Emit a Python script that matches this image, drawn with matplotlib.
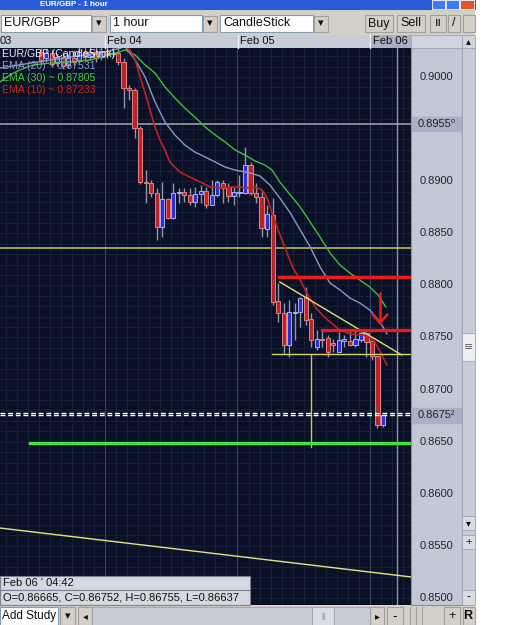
import numpy as np
import matplotlib
matplotlib.use('Agg')
import matplotlib.pyplot as plt
from matplotlib.patches import Rectangle

plt.rcParams['font.family'] = ['Liberation Sans', 'DejaVu Sans']

# 蜡烛数据 —— 横轴为 Feb 04 00:00 起的小时数
HOURS = list(range(-12, 51))
OPEN = [0.90240, 0.90182, 0.90230, 0.90134, 0.90192, 0.90115, 0.90182, 0.90163,
        0.90240, 0.90192, 0.90240, 0.90192, 0.90250, 0.90221, 0.90230, 0.90144,
        0.89894, 0.89875, 0.89511, 0.88992, 0.88983, 0.88887, 0.88560, 0.88829,
        0.88647, 0.88887, 0.88896, 0.88868, 0.88800, 0.88877, 0.88906, 0.88772,
        0.88868, 0.88983, 0.88944, 0.88858, 0.88887, 0.88887, 0.89155, 0.88887,
        0.88848, 0.88541, 0.88676, 0.87850, 0.87735, 0.87428, 0.87735, 0.87745,
        0.87889, 0.87678, 0.87409, 0.87486, 0.87495, 0.87447, 0.87361, 0.87466,
        0.87466, 0.87428, 0.87476, 0.87543, 0.87466, 0.87322, 0.86665]
HIGH = [0.90278, 0.90278, 0.90269, 0.90230, 0.90240, 0.90221, 0.90259, 0.90298,
        0.90307, 0.90288, 0.90298, 0.90307, 0.90317, 0.90298, 0.90278, 0.90182,
        0.89923, 0.89894, 0.89530, 0.89107, 0.89012, 0.88935, 0.88992, 0.88839,
        0.88983, 0.88935, 0.88935, 0.88935, 0.88944, 0.88964, 0.88944, 0.89012,
        0.89012, 0.89012, 0.88983, 0.88944, 0.89060, 0.89328, 0.89184, 0.88983,
        0.88916, 0.88772, 0.88839, 0.88023, 0.87831, 0.87860, 0.87831, 0.87889,
        0.87985, 0.87735, 0.87572, 0.87582, 0.87524, 0.87486, 0.87553, 0.87524,
        0.87572, 0.87572, 0.87572, 0.87553, 0.87466, 0.87322, 0.86755]
LOW = [0.90134, 0.90144, 0.90096, 0.90106, 0.90077, 0.90086, 0.90115, 0.90134,
       0.90163, 0.90163, 0.90144, 0.90163, 0.90182, 0.90192, 0.90115, 0.89702,
       0.89779, 0.89415, 0.88973, 0.88791, 0.88848, 0.88436, 0.88464, 0.88637,
       0.88637, 0.88791, 0.88800, 0.88772, 0.88752, 0.88791, 0.88743, 0.88772,
       0.88848, 0.88791, 0.88800, 0.88772, 0.88848, 0.88877, 0.88868, 0.88791,
       0.88464, 0.88464, 0.87812, 0.87649, 0.87351, 0.87313, 0.87476, 0.87601,
       0.87620, 0.87409, 0.87380, 0.87409, 0.87313, 0.87361, 0.87361, 0.87409,
       0.87418, 0.87409, 0.87457, 0.87313, 0.87284, 0.86631, 0.86637]
CLOSE = [0.90163, 0.90230, 0.90125, 0.90192, 0.90106, 0.90182, 0.90144, 0.90240,
         0.90192, 0.90240, 0.90182, 0.90250, 0.90221, 0.90230, 0.90144, 0.89894,
         0.89875, 0.89511, 0.88992, 0.88983, 0.88887, 0.88560, 0.88829, 0.88647,
         0.88887, 0.88896, 0.88868, 0.88800, 0.88877, 0.88906, 0.88772, 0.88868,
         0.88992, 0.88935, 0.88858, 0.88896, 0.88896, 0.89155, 0.88887, 0.88848,
         0.88551, 0.88685, 0.87841, 0.87735, 0.87428, 0.87745, 0.87745, 0.87879,
         0.87668, 0.87476, 0.87486, 0.87476, 0.87361, 0.87428, 0.87476, 0.87486,
         0.87428, 0.87486, 0.87543, 0.87457, 0.87322, 0.86660, 0.86752]

# 均线
EMA30_H = [-19.4, -17.6, -15.8, -13.4, -10.3, -6.7, -3.1, 0.5, 3.3, 5.1, 6.9, 8.7,
           10.5, 12.3, 14.1, 15.9, 17.8, 19.6, 21.4, 23.2, 25.0, 26.8, 28.6, 29.9,
           31.3, 33.2, 35.0, 36.8, 38.6, 40.4, 42.2, 44.0, 45.8, 47.6, 49.1, 50.5]
EMA30_P = [0.89952, 0.90019, 0.90067, 0.90115, 0.90134, 0.90144, 0.90163, 0.90211,
           0.90259, 0.90211, 0.90115, 0.90038, 0.89904, 0.89798, 0.89702, 0.89616,
           0.89520, 0.89443, 0.89376, 0.89299, 0.89251, 0.89194, 0.89155, 0.89107,
           0.88992, 0.88868, 0.88752, 0.88608, 0.88464, 0.88311, 0.88196, 0.88119,
           0.88052, 0.87985, 0.87908, 0.87793]
EMA20_H = [-19.4, -10.3, -1.3, 3.3, 5.1, 6.9, 8.7, 10.5, 12.3, 14.1, 15.9, 17.8,
           19.6, 21.4, 23.2, 25.9, 27.7, 29.5, 31.3, 33.2, 35.0, 36.8, 38.6, 40.4,
           42.2, 44.0, 45.8, 47.6, 49.5, 50.7]
EMA20_P = [0.90086, 0.90163, 0.90230, 0.90288, 0.90163, 0.90000, 0.89760, 0.89568,
           0.89443, 0.89347, 0.89280, 0.89232, 0.89184, 0.89136, 0.89107, 0.89079,
           0.89050, 0.88964, 0.88839, 0.88695, 0.88532, 0.88369, 0.88177, 0.88023,
           0.87956, 0.87879, 0.87831, 0.87764, 0.87649, 0.87534]
EMA10_H = [-0.4, 2.4, 4.2, 5.1, 6.0, 6.9, 7.8, 8.7, 9.6, 10.5, 11.4, 12.3, 13.2,
           15.0, 16.9, 18.7, 20.5, 22.3, 24.1, 25.5, 26.8, 28.1, 29.0, 29.9, 30.8,
           31.7, 32.6, 33.7, 35.0, 36.2, 37.7, 39.0, 40.4, 42.2, 44.0, 45.8, 47.3,
           48.4, 49.5, 50.7]
EMA10_P = [0.90317, 0.90326, 0.90259, 0.90163, 0.90000, 0.89846, 0.89683, 0.89520,
           0.89395, 0.89299, 0.89184, 0.89136, 0.89088, 0.89040, 0.88992, 0.88944,
           0.88935, 0.88944, 0.88944, 0.88935, 0.88944, 0.88916, 0.88839, 0.88695,
           0.88560, 0.88436, 0.88311, 0.88167, 0.88052, 0.87927, 0.87793, 0.87716,
           0.87649, 0.87572, 0.87534, 0.87524, 0.87514, 0.87466, 0.87361, 0.87236]

LEGEND = ['EUR/GBP (CandleStick)', 'EMA (20) ~ 0.87531',
          'EMA (30) ~ 0.87805', 'EMA (10) ~ 0.87233']
AXIS_PRICES = [0.9000, 0.8900, 0.8850, 0.8800, 0.8750,
               0.8700, 0.8650, 0.8600, 0.8550, 0.8500]
DATE_LABELS = ['03', 'Feb 04', 'Feb 05', 'Feb 06']

# 画线工具
GREY_LEVEL = 0.8955
YELLOW_LEVEL = 0.88359
RED_LEVEL_1 = (31.2, 0.88081)
RED_LEVEL_2 = (38.95, 0.87572)
SUPPORT = (29.9, 0.87342)
TREND = ([31.3, 53.4], [0.88033, 0.87332])
LONG_TREND = ([-19.4, 55.1], [0.85672, 0.85202])
VERT_MARK = (36.96, 0.87332, 0.86449)
GREEN_LEVEL = (-13.95, 0.86488)
BID_ASK = [0.86778, 0.86752]
CURSOR_H = 52.5
ARROW = (49.46, 0.87927, 0.87639)

W, H = 506, 625
X_LIM = (-19.38, 55.07)
Y_LIM = (0.84933, 0.90278)
BG = '#0a1025'
CHROME = '#d4d0c8'
PANEL = '#c3c8d6'

fig = plt.figure(figsize=(W / 100, H / 100), dpi=100)
fig.patch.set_facecolor(CHROME)


def fy(py):
    return 1 - py / H


# 主图
ax = fig.add_axes([0, fy(605), 411 / W, (605 - 48) / H], zorder=1)
ax.set_facecolor(BG)
ax.set_xlim(*X_LIM)
ax.set_ylim(*Y_LIM)
for s in ax.spines.values():
    s.set_visible(False)
ax.set_xticks([])
ax.set_yticks([])

for yv in np.arange(0.850, 0.903, 0.001):
    ax.axhline(yv, color='#18223f', lw=0.6, zorder=0)
for xv in np.arange(-18.36, 56, 2):
    ax.axvline(xv, color='#18223f', lw=0.6, zorder=0)
for xv in [-0.36, 23.64, 47.64]:
    ax.axvline(xv, color='#36425f', lw=0.8, zorder=0)
ax.axvline(CURSOR_H, color='#8a92ab', lw=1, zorder=1)

ax.axhline(GREY_LEVEL, color='#9a9ca8', lw=1.2, zorder=1)
ax.axhline(YELLOW_LEVEL, color='#c9c65e', lw=1.1, zorder=1)

# 蜡烛
h = np.array(HOURS, float)
o, hi, lo, c = map(np.array, (OPEN, HIGH, LOW, CLOSE))
ax.vlines(h, lo, hi, color='#8f97aa', lw=1, zorder=2)
up = c >= o
body = np.maximum(np.abs(c - o), 0.00004)
ax.bar(h[up], body[up], bottom=np.minimum(o, c)[up], width=0.76,
       color='#2b2fd6', edgecolor='#a9b0ff', lw=0.7, zorder=3)
ax.bar(h[~up], body[~up], bottom=np.minimum(o, c)[~up], width=0.76,
       color='#b82427', edgecolor='#e68080', lw=0.7, zorder=3)

ax.plot(EMA30_H, EMA30_P, color='#3fbf3a', lw=1, zorder=4)
ax.plot(EMA20_H, EMA20_P, color='#8a98c8', lw=1, zorder=4)
ax.plot(EMA10_H, EMA10_P, color='#c0201f', lw=1.2, zorder=4)

# 画线
ax.plot(TREND[0], TREND[1], color='#dede74', lw=1, zorder=5)
ax.plot([SUPPORT[0], X_LIM[1]], [SUPPORT[1]] * 2, color='#d8d46a', lw=1, zorder=5)
ax.plot([VERT_MARK[0]] * 2, VERT_MARK[1:], color='#c9c65e', lw=1, zorder=5)
ax.plot(LONG_TREND[0], LONG_TREND[1], color='#e6e48a', lw=1, zorder=5)
ax.plot([RED_LEVEL_1[0], X_LIM[1]], [RED_LEVEL_1[1]] * 2, color='#e81c1c', lw=2.4, zorder=6)
ax.plot([RED_LEVEL_2[0], X_LIM[1]], [RED_LEVEL_2[1]] * 2, color='#e81c1c', lw=2.4, zorder=6)
ax.plot([GREEN_LEVEL[0], X_LIM[1] - 0.2], [GREEN_LEVEL[1]] * 2, color='#3ee83a', lw=2.4, zorder=6)
for yv in BID_ASK:
    ax.axhline(yv, color='white', lw=1, ls=(0, (3.5, 2)), zorder=6)
ax.plot([ARROW[0]] * 2, ARROW[1:], color='#e81c1c', lw=1.8, zorder=6)
ax.plot([ARROW[0] - 1.3, ARROW[0], ARROW[0] + 1.3],
        [ARROW[2] + 0.0008, ARROW[2], ARROW[2] + 0.0008], color='#e81c1c', lw=1.8, zorder=6)

# 价格轴面板
pax = fig.add_axes([411 / W, fy(605), 51 / W, (605 - 48) / H], zorder=1)
pax.set_facecolor(PANEL)
pax.set_xlim(0, 1)
pax.set_ylim(*Y_LIM)
pax.set_xticks([])
pax.set_yticks([])
for s in pax.spines.values():
    s.set_color('#8a90a0')
for p in AXIS_PRICES:
    pax.text(0.5, p, f'{p:.4f}', ha='center', va='center', fontsize=8, color='#202428')
for p, txt in [(GREY_LEVEL, '0.8955\u2070'), (BID_ASK[1], '0.8675\u00b2')]:
    pax.add_patch(Rectangle((0.02, p - 0.00068), 0.96, 0.00136, color='#a9b1c6', zorder=3))
    pax.text(0.5, p, txt, ha='center', va='center', fontsize=8, color='#202428', zorder=4)

# 外框界面
ui = fig.add_axes([0, 0, 1, 1], zorder=5)
ui.set_xlim(0, W)
ui.set_ylim(H, 0)
ui.axis('off')


def box(x, y, w, hgt, fc, ec='#808080', lw=0.8, **kw):
    ui.add_patch(Rectangle((x, y), w, hgt, facecolor=fc, edgecolor=ec, lw=lw, **kw))


def label(x, y, s, size=8, color='#101010', ha='left', **kw):
    ui.text(x, y, s, fontsize=size, color=color, ha=ha, va='center', **kw)


box(475, 0, 31, 625, 'white', ec='white')

# 标题栏
box(0, 0, 475, 9, '#2a5bd7', ec='#2a5bd7')
label(40, 4.8, 'EUR/GBP - 1 hour', size=5.8, color='white', fontweight='bold')
box(432, 0, 13, 9, '#3f7bf2', ec='white', lw=0.6)
box(446, 0, 13, 9, '#3f7bf2', ec='white', lw=0.6)
box(460, 0, 14, 9, '#e0562c', ec='white', lw=0.6)

# 工具栏
for x0, w0, txt in [(1, 90, 'EUR/GBP'), (110, 92, '1 hour'), (220, 93, 'CandleStick')]:
    box(x0, 15, w0, 17, 'white', ec='#7f9db9')
    label(x0 + 3, 23.5, txt, size=9)
    box(x0 + w0 + 1, 15.5, 14, 16, CHROME, ec='#a0a0a0')
    label(x0 + w0 + 8, 23.5, '\u25be', size=8, ha='center', family='DejaVu Sans')
for x0, w0, txt in [(365, 28, 'Buy'), (397, 28, 'Sell'), (430, 16, 'ıı'), (448, 12, '/'), (463, 12, '')]:
    box(x0, 15, w0, 17, CHROME, ec='#a0a0a0')
    label(x0 + w0 / 2, 23.5, txt, size=9, ha='center')

# 日期栏
box(0, 35, 411, 13, '#c8ccd8', ec='#c8ccd8', lw=0)
box(370, 35, 41, 13, '#a8b0c4', ec='#a8b0c4', lw=0)
for xs in [105, 238, 370]:
    ui.plot([xs, xs], [35, 48], color='#eef0f4', lw=1)
for xs, txt in zip([0, 107, 240, 373], DATE_LABELS):
    label(xs, 41.5, txt, size=8)
box(411, 35, 51, 13, '#d0d4e0', ec='#a0a4b0', lw=0.6)
box(462, 35, 13, 13, '#d0d4e0', ec='#a0a4b0', lw=0.6)
label(468.5, 41.5, '\u25b4', size=7, ha='center', family='DejaVu Sans')

# 滚动列
box(462, 48, 13, 557, '#c8ccd8', ec='#a0a4b0', lw=0.6)
box(462, 333, 13, 28, '#eceef2', ec='#a0a4b0', lw=0.6)
label(468.5, 347, '\u2261', size=8, ha='center', color='#606060', family='DejaVu Sans')
box(462, 516, 13, 14, '#d8dce4', ec='#a0a4b0', lw=0.6)
label(468.5, 523, '\u25be', size=7, ha='center', family='DejaVu Sans')
box(462, 535, 13, 14, '#d8dce4', ec='#a0a4b0', lw=0.6)
label(468.5, 542, '+', size=8, ha='center')
box(462, 590, 13, 15, '#d8dce4', ec='#a0a4b0', lw=0.6)
label(468.5, 597, '-', size=9, ha='center')

# 图例文字
for i, (txt, col) in enumerate(zip(LEGEND, ['#e8ecf4', '#8a98c8', '#49c944', '#c8281f'])):
    label(2, 54 + 12 * i, txt, size=7.6, color=col)

# 数据提示框
box(0, 576, 250, 14, '#d4d8e0', ec='#7a8090')
label(3, 583, "Feb 06 ' 04:42", size=8)
box(0, 590, 250, 15, '#d4d8e0', ec='#7a8090')
label(3, 597.5, 'O=0.86665, C=0.86752, H=0.86755, L=0.86637', size=8)

# 底部栏
box(0, 607, 58, 18, 'white', ec='#7f9db9')
label(2, 616, 'Add Study', size=8.5)
box(60, 607, 15, 18, CHROME, ec='#a0a0a0')
label(67.5, 616, '\u25be', size=8, ha='center', family='DejaVu Sans')
box(78, 607, 14, 18, CHROME, ec='#a0a0a0')
label(85, 616, '\u25c2', size=7, ha='center', family='DejaVu Sans')
box(92, 607, 278, 18, '#c8ccd8', ec='#a0a0a0', lw=0.6)
box(312, 607, 22, 18, '#d8dce4', ec='#a0a0a0', lw=0.6)
label(323, 616, '||', size=6, ha='center', color='#707070')
box(370, 607, 14, 18, CHROME, ec='#a0a0a0')
label(377, 616, '\u25b8', size=7, ha='center', family='DejaVu Sans')
box(387, 607, 16, 18, CHROME, ec='#a0a0a0')
label(395, 616, '-', size=10, ha='center')
for xs in [410, 416, 422]:
    ui.plot([xs, xs], [607, 625], color='#a0a0a0', lw=0.8)
box(444, 607, 16, 18, CHROME, ec='#a0a0a0')
label(452, 616, '+', size=9, ha='center')
box(463, 607, 12, 18, CHROME, ec='#a0a0a0')
label(468, 616, 'R', size=9, ha='center', fontweight='bold')

fig.savefig('out.png', dpi=100, facecolor=fig.get_facecolor())
